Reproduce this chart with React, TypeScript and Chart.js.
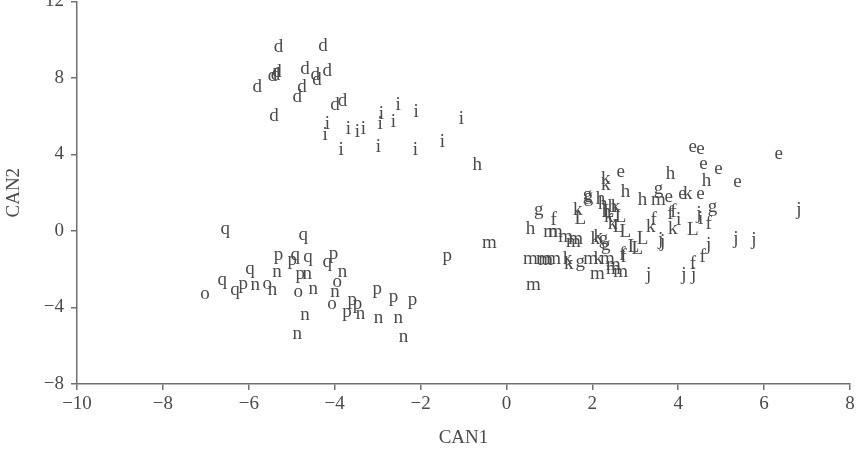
import { useEffect, useRef } from "react";
import { Chart, registerables } from "chart.js";
Chart.register(...registerables);

// CAN1 / CAN2 scores per group letter
const dPts = [[-5.31, 9.74], [-4.27, 9.79], [-5.38, 8.27], [-5.34, 8.43], [-5.45, 8.22], [-4.69, 8.59], [-4.45, 8.27], [-4.41, 8.01], [-4.17, 8.48], [-5.8, 7.64], [-4.76, 7.64], [-4.87, 7.12], [-3.99, 6.7], [-3.82, 6.91], [-5.41, 6.13]];
const iPts = [[-4.17, 5.71], [-4.22, 5.13], [-3.68, 5.45], [-3.47, 5.29], [-3.33, 5.45], [-2.91, 6.23], [-2.94, 5.71], [-2.63, 5.81], [-2.52, 6.7], [-2.1, 6.34], [-1.05, 5.97], [-3.85, 4.35], [-2.98, 4.5], [-2.12, 4.35], [-1.49, 4.76], [4.01, 0.68], [4.52, 0.73]];
const hPts = [[-0.68, 3.56], [0.56, 0.21], [3.82, 3.09], [2.77, 2.15], [3.17, 1.73], [2.19, 1.78], [4.66, 2.72], [2.47, 1.36], [2.24, 1.52], [2.33, 1.1]];
const ePts = [[2.66, 3.19], [4.34, 4.5], [4.52, 4.4], [4.59, 3.61], [4.94, 3.35], [5.38, 2.67], [6.34, 4.14], [4.1, 2.04], [4.52, 2.04], [3.78, 1.88]];
const kPts = [[2.31, 2.83], [1.66, 1.2], [2.07, -0.31], [3.36, 0.31], [3.87, 0.21], [4.22, 2.04], [1.45, -1.62], [2.31, 2.51], [2.14, -0.21], [1.42, -1.36], [2.14, -1.36], [2.38, 0.84], [2.47, 0.47], [2.54, 1.36]];
const gPts = [[0.75, 1.2], [1.89, 1.99], [2.26, -0.31], [1.72, -1.52], [3.54, 2.3], [4.8, 1.36], [1.91, 1.88], [2.31, -0.63]];
const fPts = [[1.1, 0.68], [2.7, -1.15], [3.89, 1.1], [4.57, -1.26], [4.34, -1.62], [4.71, 0.47], [3.43, 0.68], [3.82, 0.99], [2.73, -1.26]];
const LPts = [[1.72, 0.73], [3.05, -0.84], [3.17, -0.31], [4.34, 0.16], [2.38, 1.1], [2.96, -0.73], [2.61, 0.31], [2.77, 0.05], [2.66, 0.84]];
const mPts = [[0.56, -1.36], [0.63, -2.72], [2.12, -2.15], [2.49, -1.88], [1.03, 0.05], [1.1, -1.36], [-0.4, -0.52], [1.61, -0.31], [0.91, -1.41], [2.66, -2.04], [1.14, 0.05], [1.38, -0.21], [1.56, -0.47], [0.86, -1.36], [1.96, -1.36], [2.35, -1.36], [3.54, 1.73], [2.49, -1.68]];
const jPts = [[3.31, -2.2], [4.13, -2.2], [3.64, -0.47], [6.81, 1.2], [5.34, -0.31], [5.76, -0.37], [4.71, -0.63], [4.36, -2.2], [4.48, 0.99], [3.59, -0.37]];
const qPts = [[-6.55, 0.21], [-4.73, -0.1], [-5.97, -1.88], [-6.62, -2.46], [-6.32, -2.98], [-4.92, -1.15], [-4.62, -1.26], [-4.17, -1.52]];
const pPts = [[-5.31, -1.15], [-4.99, -1.41], [-4.03, -1.1], [-6.13, -2.67], [-4.8, -2.15], [-3.01, -2.93], [-2.63, -3.35], [-2.19, -3.51], [-3.59, -3.51], [-3.47, -3.72], [-3.71, -4.14], [-1.38, -1.2]];
const nPts = [[-5.85, -2.72], [-5.34, -2.04], [-5.45, -2.98], [-4.5, -2.93], [-3.82, -2.04], [-3.99, -3.09], [-4.69, -4.29], [-4.87, -5.29], [-3.4, -4.24], [-2.98, -4.45], [-2.52, -4.45], [-2.4, -5.45], [-4.64, -2.15]];
const oPts = [[-7.02, -3.19], [-5.57, -2.67], [-4.85, -3.09], [-3.94, -2.57], [-4.06, -3.72]];

const groups: [string, number[][]][] = [
  ["d", dPts], ["i", iPts], ["h", hPts], ["e", ePts], ["k", kPts], ["g", gPts], ["f", fPts],
  ["L", LPts], ["m", mPts], ["j", jPts], ["q", qPts], ["p", pPts], ["n", nPts], ["o", oPts],
];

const xMin = -10, xMax = 8, xStep = 2;
const yMin = -8, yMax = 12, yStep = 4;

const FONT = '"Liberation Serif", "DejaVu Serif", serif';
const TEXT = "#4a4a4a";
const AXIS = "#707070";

const letterPlugin = {
  id: "letters",
  afterDatasetsDraw(chart: any) {
    const ctx = chart.ctx;
    ctx.save();
    ctx.font = `19px ${FONT}`;
    ctx.fillStyle = TEXT;
    ctx.textAlign = "center";
    ctx.textBaseline = "middle";
    chart.data.datasets.forEach((ds: any, i: number) => {
      const meta = chart.getDatasetMeta(i);
      meta.data.forEach((el: any) => ctx.fillText(ds.label, el.x, el.y + 2));
    });
    ctx.restore();
  },
};

const minus = (v: any) => String(v).replace("-", "\u2212");

export default function App() {
  const ref = useRef<HTMLCanvasElement>(null);
  useEffect(() => {
    const chart = new Chart(ref.current!, {
      type: "scatter",
      data: {
        datasets: groups.map(([label, pts]) => ({
          label,
          data: pts.map(([x, y]) => ({ x, y })),
          pointRadius: 0,
          pointHoverRadius: 0,
        })),
      },
      options: {
        responsive: false,
        animation: false,
        events: [],
        layout: { padding: { top: 13, right: 12, left: 0, bottom: 0 } },
        plugins: { legend: { display: false }, tooltip: { enabled: false } },
        scales: {
          x: {
            type: "linear",
            min: xMin,
            max: xMax,
            afterFit: (s: any) => { s.height = 67; },
            ticks: { stepSize: xStep, color: TEXT, font: { family: FONT, size: 19 }, padding: 3, callback: minus },
            grid: { drawOnChartArea: false, drawTicks: true, tickLength: 6, color: AXIS, lineWidth: 1.5 },
            border: { display: true, color: AXIS, width: 1.5 },
            title: { display: true, text: "CAN1", color: TEXT, font: { family: FONT, size: 19 }, padding: { top: 2, bottom: 2 } },
          },
          y: {
            type: "linear",
            min: yMin,
            max: yMax,
            afterFit: (s: any) => { s.width = 77; },
            ticks: { stepSize: yStep, color: TEXT, font: { family: FONT, size: 19 }, padding: 7, callback: minus },
            grid: { drawOnChartArea: false, drawTicks: true, tickLength: 6, color: AXIS, lineWidth: 1.5 },
            border: { display: true, color: AXIS, width: 1.5 },
            title: { display: true, text: "CAN2", color: TEXT, font: { family: FONT, size: 19 }, padding: { top: 3, bottom: 3 } },
          },
        },
      },
      plugins: [letterPlugin],
    });
    return () => chart.destroy();
  }, []);
  return (
    <canvas
      ref={ref}
      width={862}
      height={468}
      style={{ position: "fixed", left: 0, top: -17, width: 862, height: 468 }}
    />
  );
}
